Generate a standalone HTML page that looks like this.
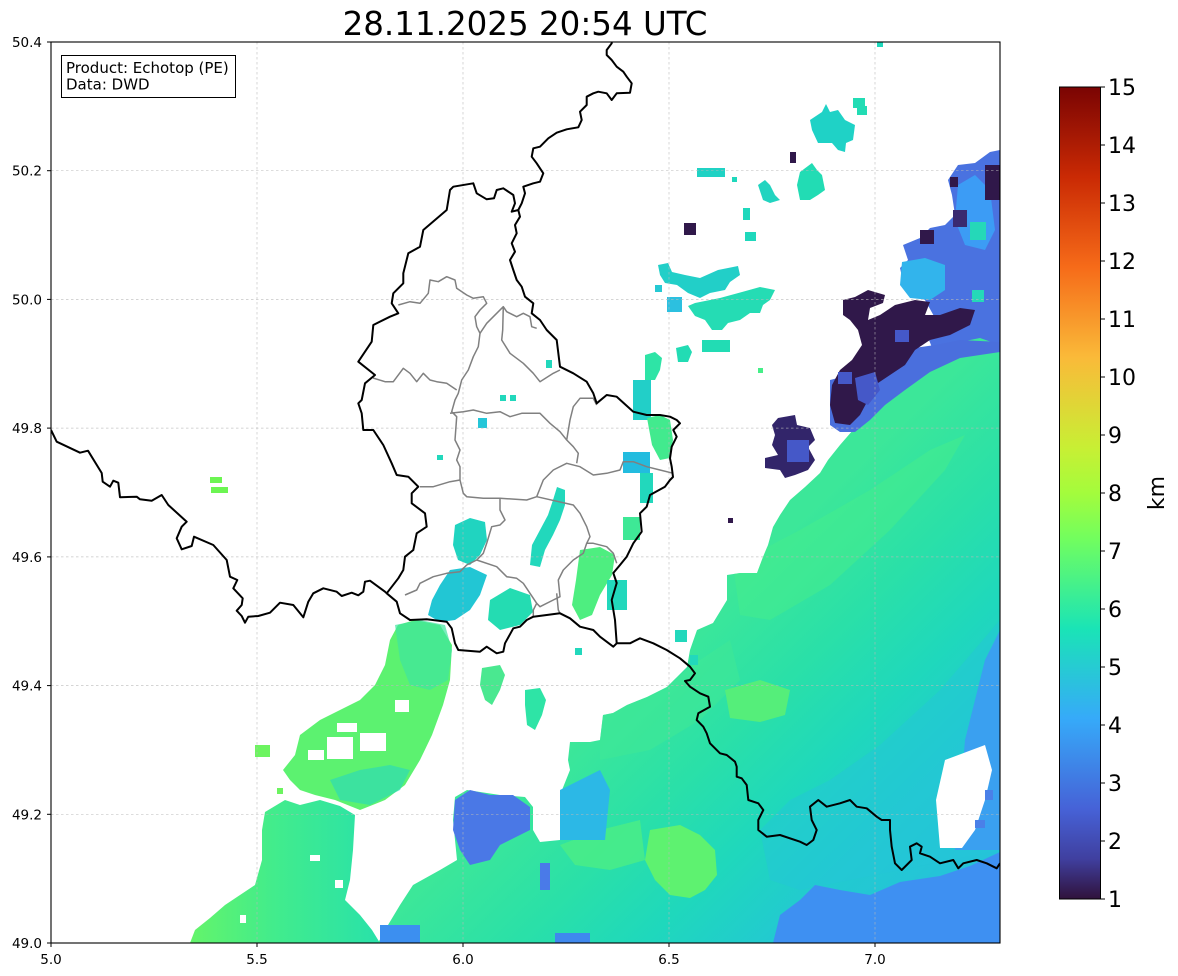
<!DOCTYPE html>
<html><head><meta charset="utf-8"><style>
html,body{margin:0;padding:0;background:#fff;}
svg{display:block;font-family:"DejaVu Sans","Liberation Sans",sans-serif;}
</style></head><body>
<svg width="1178" height="976" viewBox="0 0 1178 976" xmlns="http://www.w3.org/2000/svg">
<defs>
<clipPath id="pc"><rect x="51" y="42" width="949" height="901"/></clipPath>
<clipPath id="mc"><path d="M1000,327 L985,333 967,337 950,350 935,360 920,373 905,382 893,393 875,405 862,418 853,430 840,445 828,460 820,473 805,487 790,500 780,515 773,527 768,545 763,557 757,573 740,573 727,575 727,600 713,623 697,630 690,650 687,667 667,687 647,697 627,705 613,713 603,715 600,740 590,742 570,742 568,760 570,770 562,790 560,840 540,842 533,830 533,807 525,797 500,795 467,790 455,797 453,820 457,860 440,870 413,885 400,905 388,925 378,943 L1000,943 Z"/></clipPath>
<linearGradient id="cb" x1="0" y1="1" x2="0" y2="0">
<stop offset="0" stop-color="#30123b"/><stop offset="0.05" stop-color="#4040a0"/>
<stop offset="0.111" stop-color="#4662d7"/><stop offset="0.222" stop-color="#36aaf9"/>
<stop offset="0.333" stop-color="#1ae4b6"/><stop offset="0.444" stop-color="#72fe5e"/>
<stop offset="0.5" stop-color="#a4fc3c"/><stop offset="0.556" stop-color="#c8ef34"/>
<stop offset="0.667" stop-color="#faba39"/><stop offset="0.778" stop-color="#f66b19"/>
<stop offset="0.889" stop-color="#ca2a04"/><stop offset="1" stop-color="#7a0403"/>
</linearGradient>
<linearGradient id="mg" gradientUnits="userSpaceOnUse" x1="800" y1="520" x2="1045" y2="772">
<stop offset="0" stop-color="#3ce799"/><stop offset="0.3" stop-color="#2ae0a8"/>
<stop offset="0.55" stop-color="#1fd8bc"/><stop offset="0.8" stop-color="#22cad0"/>
<stop offset="1" stop-color="#24c4d8"/>
</linearGradient>
<linearGradient id="lbg" gradientUnits="userSpaceOnUse" x1="190" y1="0" x2="375" y2="0">
<stop offset="0" stop-color="#64f46a"/><stop offset="0.45" stop-color="#42ec8c"/><stop offset="1" stop-color="#2ae2a8"/>
</linearGradient>
</defs>

<text x="525" y="35" font-size="32.5" text-anchor="middle" fill="#000">28.11.2025 20:54 UTC</text>

<g clip-path="url(#pc)">
<!-- main SE region -->
<path fill="url(#mg)" d="M1000,327 L985,333 967,337 950,350 935,360 920,373 905,382 893,393 875,405 862,418 853,430 840,445 828,460 820,473 805,487 790,500 780,515 773,527 768,545 763,557 757,573 740,573 727,575 727,600 713,623 697,630 690,650 687,667 667,687 647,697 627,705 613,713 603,715 600,740 590,742 570,742 568,760 570,770 562,790 560,840 540,842 533,830 533,807 525,797 500,795 467,790 455,797 453,820 457,860 440,870 413,885 400,905 388,925 378,943 L1000,943 Z"/>
<g clip-path="url(#mc)">
<path fill="#45ec8c" opacity="0.55" d="M733,565 L800,530 870,490 930,450 965,435 945,470 890,530 830,585 770,620 740,615 Z"/>
<path fill="#3fe896" opacity="0.6" d="M600,715 L660,690 700,660 730,640 740,680 700,720 650,750 600,760 Z"/>
<path fill="#5ef270" d="M650,830 L680,825 700,835 715,850 717,875 705,890 690,898 670,895 655,880 645,860 Z"/>
<path fill="#55ee7a" d="M725,690 L760,680 790,690 785,715 760,722 730,718 Z"/>
<path fill="#4cee84" opacity="0.8" d="M560,845 L600,830 640,820 645,860 610,870 575,865 Z"/>
<path fill="#24c6d8" opacity="0.5" d="M1000,620 L940,690 880,745 830,780 790,800 760,830 770,880 800,890 1000,850 Z"/>
</g>
<!-- right blue strip -->
<path fill="#3aa0f0" d="M1000,630 L985,660 975,700 965,740 960,800 955,850 1000,850 Z"/>
<!-- bottom blue -->
<path fill="#3e90f2" d="M773,943 L780,915 800,900 815,885 840,890 870,895 900,882 940,876 970,866 1000,852 L1000,943 Z"/>
<rect x="380" y="925" width="40" height="18" fill="#3c8ff0"/>
<rect x="555" y="933" width="35" height="10" fill="#3f88ee"/>
<!-- white hole -->
<path fill="#fff" d="M945,760 L985,745 992,770 985,800 975,830 962,848 940,848 936,800 Z"/>
<rect x="985" y="790" width="8" height="10" fill="#4a80e8"/>
<rect x="975" y="820" width="10" height="8" fill="#4a80e8"/>
<rect x="958" y="785" width="6" height="6" fill="#fff"/>
<!-- cyan/blue in bottom band -->
<path fill="#2cb8e6" d="M560,790 L580,780 600,770 610,790 605,840 560,840 Z"/>
<path fill="#4a78e6" d="M455,800 L470,790 490,795 513,795 530,807 530,830 520,835 500,845 490,860 470,865 460,850 453,830 Z"/>
<rect x="540" y="863" width="10" height="27" fill="#4a7ae8"/>

<!-- top-right cluster -->
<path fill="#4a72e0" d="M948,180 L958,165 975,163 990,152 1000,150 1000,345 980,338 960,342 945,345 935,355 925,330 935,318 925,300 905,290 900,268 908,260 903,245 920,238 930,228 945,225 955,215 952,195 Z"/>
<path fill="#3c9cf5" d="M958,185 L975,175 990,190 995,230 985,250 965,245 955,220 Z"/>
<path fill="#32b4ec" d="M902,262 L925,258 945,265 945,290 930,300 910,298 900,285 Z"/>
<rect x="970" y="222" width="16" height="18" fill="#25d8b8"/>
<rect x="972" y="290" width="12" height="12" fill="#25d8b8"/>
<rect x="985" y="165" width="15" height="35" fill="#30184a"/>
<rect x="950" y="177" width="8" height="10" fill="#30184a"/>
<rect x="953" y="210" width="14" height="17" fill="#3a2a70"/>
<rect x="920" y="230" width="14" height="14" fill="#30184a"/>
<path fill="#4a6fdd" d="M830,380 L870,370 900,350 935,345 960,340 1000,342 1000,352 960,358 930,372 905,390 885,405 870,420 855,432 840,432 830,425 Z"/>
<path fill="#30184a" d="M843,300 L855,297 868,290 885,295 883,303 870,308 868,320 880,315 895,305 915,300 930,302 925,315 940,315 960,308 975,310 970,325 950,335 930,340 915,350 905,365 890,375 875,385 868,400 860,415 850,425 835,423 830,405 832,385 840,370 852,360 862,345 858,330 850,320 843,315 Z"/>
<path fill="#4558c8" d="M855,378 L875,372 880,390 868,405 858,400 Z"/>
<rect x="838" y="372" width="14" height="12" fill="#4558c8"/>
<rect x="895" y="330" width="14" height="12" fill="#4558c8"/>
<!-- dark blob -->
<path fill="#32256a" d="M778,418 L795,415 797,425 810,428 815,440 808,447 815,460 808,470 795,475 785,478 780,470 765,468 765,458 778,455 772,445 775,435 772,425 Z"/>
<rect x="787" y="440" width="22" height="22" fill="#4558c8"/>

<!-- lower-left blob -->
<path fill="url(#lbg)" d="M265,812 L285,800 300,805 320,800 340,806 355,815 353,850 350,880 345,900 360,915 372,930 380,943 190,943 195,930 210,918 225,905 240,895 255,885 262,860 262,830 Z"/>
<!-- upper-left blob -->
<path fill="#5cf270" d="M300,735 L320,720 340,710 360,700 375,685 385,665 390,640 398,625 415,620 440,625 452,645 450,680 443,705 432,735 420,760 405,785 385,800 360,810 335,800 315,795 300,790 290,780 283,770 295,755 Z"/>
<path fill="#3ee6a0" d="M395,625 L420,620 445,625 452,650 448,680 430,690 410,685 400,660 Z" opacity="0.7"/>
<path fill="#2fdcb4" d="M330,780 L360,770 390,765 410,770 400,790 370,805 340,800 Z" opacity="0.7"/>
<rect x="327" y="737" width="26" height="22" fill="#fff"/>
<rect x="360" y="733" width="26" height="18" fill="#fff"/>
<rect x="337" y="723" width="20" height="9" fill="#fff"/>
<rect x="308" y="750" width="16" height="10" fill="#fff"/>
<rect x="395" y="700" width="14" height="12" fill="#fff"/>
<rect x="255" y="745" width="15" height="12" fill="#6cf460"/>
<rect x="277" y="788" width="6" height="6" fill="#6cf460"/>
<rect x="310" y="855" width="10" height="6" fill="#fff"/>
<rect x="335" y="880" width="8" height="8" fill="#fff"/>
<rect x="240" y="915" width="6" height="8" fill="#fff"/>

<!-- small north blobs -->
<rect x="877" y="42" width="6" height="5" fill="#1fd8bc"/>
<path fill="#1fd2c6" d="M810,120 L822,112 826,104 830,112 838,110 845,120 855,125 853,140 846,143 845,152 838,150 832,143 818,143 812,130 Z"/>
<rect x="853" y="98" width="12" height="10" fill="#22dcb4"/>
<rect x="857" y="106" width="10" height="9" fill="#22dcb4"/>
<rect x="790" y="152" width="6" height="11" fill="#30184a"/>
<path fill="#22dcb4" d="M800,172 L812,163 817,170 822,175 825,190 818,195 810,200 800,200 797,185 Z"/>
<rect x="697" y="168" width="28" height="9" fill="#20d2c4"/>
<rect x="732" y="177" width="5" height="5" fill="#1fd8bc"/>
<path fill="#22d4c0" d="M758,185 L765,180 770,185 775,195 780,200 770,203 763,200 Z"/>
<rect x="743" y="208" width="7" height="12" fill="#1fd8bc"/>
<rect x="684" y="223" width="12" height="12" fill="#30184a"/>
<rect x="745" y="232" width="11" height="9" fill="#1fd8bc"/>
<path fill="#22cfc8" d="M658,265 L668,263 672,272 685,275 700,278 718,270 738,266 740,275 730,282 725,290 710,293 700,298 688,293 677,285 665,283 660,275 Z"/>
<rect x="655" y="285" width="7" height="7" fill="#25c9d3"/>
<rect x="667" y="297" width="15" height="15" fill="#2cc0e0"/>
<path fill="#25dcb4" d="M695,303 L720,298 742,292 760,287 775,290 770,300 763,305 760,313 750,313 740,320 728,323 722,330 712,330 705,320 695,316 688,306 Z"/>
<path fill="#22dcb4" d="M676,348 L688,345 692,352 688,362 678,362 Z"/>
<rect x="702" y="340" width="28" height="12" fill="#22dcb4"/>
<path fill="#2ee4a6" d="M645,355 L655,352 662,358 660,370 655,380 645,380 Z"/>
<rect x="633" y="380" width="18" height="40" fill="#22cfc8"/>
<rect x="758" y="368" width="5" height="5" fill="#45ef88"/>
<rect x="728" y="518" width="5" height="5" fill="#30184a"/>

<!-- Lux region blobs -->
<path fill="#42ea8e" d="M647,418 L660,415 670,420 673,440 670,458 660,460 652,445 Z"/>
<rect x="623" y="452" width="27" height="21" fill="#23bcdf"/>
<rect x="640" y="473" width="13" height="30" fill="#22d8bc"/>
<rect x="623" y="517" width="17" height="23" fill="#3ee896"/>
<path fill="#22d8bc" d="M557,487 L565,490 565,505 560,520 553,535 545,550 540,567 530,565 532,545 540,530 548,515 553,500 Z"/>
<path fill="#20d4c0" d="M455,525 L470,518 485,522 487,540 480,555 470,565 458,560 453,545 Z"/>
<path fill="#22c6d4" d="M450,570 L470,567 487,575 480,595 470,610 455,620 440,622 428,615 432,600 440,585 Z"/>
<path fill="#24dcb2" d="M490,600 L510,588 530,595 533,612 520,625 500,630 488,620 Z"/>
<path fill="#4eee80" d="M580,550 L600,547 615,555 612,575 600,595 592,615 580,620 572,605 576,580 Z"/>
<rect x="607" y="580" width="20" height="30" fill="#22d8bc"/>
<path fill="#4ae890" d="M482,668 L500,665 505,675 500,690 492,705 485,700 480,685 Z"/>
<path fill="#2ee4a6" d="M525,690 L540,688 546,700 542,715 535,730 527,725 525,705 Z"/>
<rect x="575" y="648" width="7" height="7" fill="#22d8bc"/>
<rect x="437" y="455" width="6" height="5" fill="#22d8bc"/>
<rect x="478" y="418" width="9" height="10" fill="#25c6d8"/>
<rect x="500" y="395" width="6" height="6" fill="#22d8bc"/>
<rect x="546" y="360" width="6" height="8" fill="#22d8bc"/>
<rect x="510" y="395" width="6" height="6" fill="#22d8bc"/>
<rect x="210" y="477" width="12" height="6" fill="#6cf552"/>
<rect x="211" y="487" width="17" height="6" fill="#6cf552"/>
<rect x="675" y="630" width="12" height="12" fill="#22d8bc"/>
<rect x="690" y="655" width="8" height="10" fill="#22d8bc"/>

<!-- gridlines -->
<g stroke="#b8b8b8" stroke-width="0.7" stroke-dasharray="2.5,2.5" fill="none" opacity="0.8">
<line x1="257" y1="42" x2="257" y2="943"/><line x1="463" y1="42" x2="463" y2="943"/>
<line x1="669" y1="42" x2="669" y2="943"/><line x1="875" y1="42" x2="875" y2="943"/>
<line x1="51" y1="170.7" x2="1000" y2="170.7"/><line x1="51" y1="299.4" x2="1000" y2="299.4"/>
<line x1="51" y1="428.1" x2="1000" y2="428.1"/><line x1="51" y1="556.9" x2="1000" y2="556.9"/>
<line x1="51" y1="685.6" x2="1000" y2="685.6"/><line x1="51" y1="814.3" x2="1000" y2="814.3"/>
</g>

<!-- gray canton borders -->
<g stroke="#808080" stroke-width="1.5" fill="none" stroke-linejoin="round">
<polyline points="398.3,305 410,301.7 420,303.3 428.3,293.3 430,280 438.3,281.7 446.7,276.7 455,280 456.7,288.3 466.7,295 473.3,298.3 483.3,296.7 486.7,303.3 480,310 475,316.7 476.7,326.7 480,333.3 478.3,346.7 473.3,356.7 468.3,370 461.7,380 458.3,393.3 455,400 451.7,411.7 456.7,416.7 455,440 460,450 456.7,460 460,466.7 460,480 463.3,493.3 466.7,496.7 483.3,498.3 500,498.3 526.7,500 536.7,496.7 543.3,480 553.3,470 566.7,463.3 580,466.7 593.3,475 606.7,473.3 620,470 623.3,461.7 633.3,461.7 646.7,466.7 660,470 673.3,473.3"/>
<polyline points="480,333.3 486.7,323.3 496.7,313.3 503.3,306.7 506.7,311.7 516.7,316.7 523.3,313.3 530,316.7 531.7,326.7 536.7,328.3"/>
<polyline points="503.3,306.7 502.7,330 501.7,340 510,353.3 523.3,363.3 533.3,373.3 540,381.7 553.3,373.3 560,370"/>
<polyline points="373,378 385,381.7 393.3,381.7 403.3,368.3 410,373.3 416.7,381.7 423.3,373.3 430,380 436.7,381.7 446.7,383.3 456.7,390"/>
<polyline points="450,413.3 463.3,411.7 473.3,410 486.7,413.3 500,411.7 510,416.7 521.7,413.3 540,413.3 550,423.3 560,431.7 566.7,440 573.3,446.7 578.3,453.3 576.7,463.3"/>
<polyline points="566.7,440 570,420 573.3,406.7 580,398.3 593.3,398.3 596.7,405"/>
<polyline points="460,480 450,481.7 433.3,486.7 420,486.7"/>
<polyline points="500,498.3 500,510 505,520 500,525 491.7,526.7 486.7,543.3 483.3,553.3 476.7,560 466.7,565 460,571.7 446.7,573.3 433.3,576.7 420,583.3 416.7,590 405,595"/>
<polyline points="476.7,560 496.7,566.7 506.7,576.7 516.7,578.3 523.3,583.3 530,593.3 536.7,603.3 540,606.7 553.3,600 560,596.7 558.3,580 563.3,570 573.3,560 583.3,553.3 586.7,543.3 590,536.7 586.7,526.7 580,513.3 573.3,505 536.7,496.7"/>
<polyline points="586.7,543.3 593.3,543.3 606.7,546.7 613.3,553.3 616.7,563.3"/>
<polyline points="556.7,593.3 558.3,610 560,613.3"/>
<polyline points="536.7,603.3 533.3,610 533.3,616.7"/>
</g>

<!-- black borders -->
<g stroke="#000" stroke-width="2" fill="none" stroke-linejoin="round">
<polyline points="51,430 56.7,441.7 80,452.7 88,450.7 101.7,473 102.7,481.7 110,486.7 113.3,480.7 118.3,482.7 120,497.3 136.7,496.7 140,499.3 151.7,500.7 161.7,495 168.3,505 186.7,521.7 181.7,526.7 176.7,538.3 181.7,549.3 191.7,546 194,536.7 213.3,545 226.7,560 230,576.7 237.3,580 233.3,588.3 242.7,598.3 241.7,605 236.7,610.7 241.7,616 245,622.7 248.3,616.7 258.3,616 270,612.7 280,602.7 293.3,605 303.3,617.3 308.3,601.7 313.3,593.3 323.3,588.3 336.7,591.7 341.7,596 351.7,592.7 358.3,595.3 363.3,591.7 365,581.7 370,580.7 385,591.7 386.7,593.3 396.7,601.7 400,613.3 410,620 426.7,619.3 446.7,621.7 451.7,628.3 455,643.3 458.3,650 480,651.7 486.7,646.7 496.7,653.3 503.3,651.7 505,643.3 513.3,628.3 520,626.7 526.7,620 533.3,616.7 546.7,615 560,613.3 570,618.3 580,626.7 593.3,630 600,636.7 613.3,646.7 616.7,643.3 630,643.3 640,638.3 653.3,643.3 666.7,650 680,658.3 690,666.7 695,673.3 690,680 685,681 690,686.7 700,693.3 708.3,696.7 710,706.7 698.3,713.3 696.7,720 703.3,726.7 706.7,733.3 710,743.3 720,753.3 726.7,755 735,761.7 736.7,766.7 736.7,776.7 741.7,778.3 746.7,785 748.3,800 758.3,803.3 763.3,810 758.3,820 758.3,830 766.7,836.7 780,835 800,841.7 806.7,845 813.3,840 816.7,830 811.7,820 810,806.7 818.3,800 826.7,806.7 840,803.3 850,800 856.7,806.7 866.7,808.3 876.7,816.7 881.7,820 890,820 890,830 891.7,846.7 895,863.3 901.7,870 911.7,860 910,846.7 916.7,843.3 921.7,846.7 920,853.3 930,856.7 940,863.3 953.3,860 958.3,868.3 963.3,863.3 976.7,860 986.7,863.3 996.7,868.3 1000,863.3"/>
<polyline points="386.7,593.3 398.3,578.3 403.3,570 405,556.7 413.3,550 416.7,533.3 426.7,526.7 425,513.3 411.7,503.3 411.7,493.3 418.3,486.7 408.3,476.7 396.7,475 391.7,463.3 383.3,445 373.3,430 363.3,430 361.7,413.3 358.3,403.3 361.7,400 365,383.3 375,375 358.3,361.7 371.7,341.7 373.3,325 390,316.7 398.3,313.3 391.7,303.3 393.3,293.3 403.3,283.3 403.3,273.3 408.3,253.3 420,246.7 423.3,230 446.7,210 450,190 453.3,186.7 473.3,183.3 476.7,193.3 486.7,199.3 494,198.3 496.7,190 503.3,188.3 513.3,195 515,203.3 511.7,211.7 518.3,210 520,216.7 515,225 516.7,233.3 511.7,243.3 515,251.7 510,260 513.3,270 516.7,280 521.7,286.7 525,296.7 533.3,303.3 531.7,313.3 540,320 546.7,330 556.7,340 560,366.7 573.3,373.3 586.7,381.7 593.3,393.3 596.7,403.3 606.7,395 616.7,396.7 633.3,411.7 646.7,415 660,415 670,416.7 676.7,420 680,423.3 673.3,430 676.7,436.7 671.7,446.7 670,458.3 671.7,466.7 673,477 670,480 665,486.7 650,495 646.7,506.7 640,513.3 641.7,531.7 633.3,543.3 626.7,556.7 620,565 613.3,573 616.7,583 611.7,600 615,620 616.7,643.3"/>
<polyline points="518.3,210 521.7,203.3 525,193.3 523.3,186.7 533.3,183.3 540,181.7 543.3,173.3 536.7,163.3 531.7,156.7 533.3,148.3 540,146.7 548.3,138.3 556.7,132.7 566.7,129.3 578.3,127.3 581.7,120 580,111.7 586.7,105 586.7,96.7 593.3,93.3 598.3,91.7 606.7,93.3 611.7,100 616.7,93.3 630,92.7 631.7,83.3 626.7,76.7 623.3,71.7 616.7,66.7 611.7,60 606.7,55 606.7,50 611.7,43.3 612,40"/>
</g>
</g>

<!-- axes frame -->
<rect x="51" y="42" width="949" height="901" fill="none" stroke="#000" stroke-width="1.1"/>

<!-- ticks -->
<g stroke="#000" stroke-width="1">
<line x1="47" y1="42" x2="51" y2="42"/><line x1="47" y1="170.7" x2="51" y2="170.7"/>
<line x1="47" y1="299.4" x2="51" y2="299.4"/><line x1="47" y1="428.1" x2="51" y2="428.1"/>
<line x1="47" y1="556.9" x2="51" y2="556.9"/><line x1="47" y1="685.6" x2="51" y2="685.6"/>
<line x1="47" y1="814.3" x2="51" y2="814.3"/><line x1="47" y1="943" x2="51" y2="943"/>
<line x1="51" y1="943" x2="51" y2="947"/><line x1="257" y1="943" x2="257" y2="947"/>
<line x1="463" y1="943" x2="463" y2="947"/><line x1="669" y1="943" x2="669" y2="947"/>
<line x1="875" y1="943" x2="875" y2="947"/>
</g>
<g font-size="13.5" fill="#000" text-anchor="end">
<text x="42" y="47">50.4</text><text x="42" y="175.7">50.2</text>
<text x="42" y="304.4">50.0</text><text x="42" y="433.1">49.8</text>
<text x="42" y="561.9">49.6</text><text x="42" y="690.6">49.4</text>
<text x="42" y="819.3">49.2</text><text x="42" y="948">49.0</text>
</g>
<g font-size="13.5" fill="#000" text-anchor="middle">
<text x="51" y="964">5.0</text><text x="257" y="964">5.5</text>
<text x="463" y="964">6.0</text><text x="669" y="964">6.5</text>
<text x="875" y="964">7.0</text>
</g>

<!-- info box -->
<rect x="61.5" y="55.5" width="174" height="42" fill="#fff" stroke="#000" stroke-width="1"/>
<text x="66" y="73" font-size="15" fill="#000">Product: Echotop (PE)</text>
<text x="66" y="89.5" font-size="15" fill="#000">Data: DWD</text>

<!-- colorbar -->
<rect x="1059.5" y="87" width="41" height="812" fill="url(#cb)" stroke="#000" stroke-width="1"/>
<g stroke="#000" stroke-width="1">
<line x1="1100.5" y1="87" x2="1105" y2="87"/><line x1="1100.5" y1="145" x2="1105" y2="145"/>
<line x1="1100.5" y1="203" x2="1105" y2="203"/><line x1="1100.5" y1="261" x2="1105" y2="261"/>
<line x1="1100.5" y1="319" x2="1105" y2="319"/><line x1="1100.5" y1="377" x2="1105" y2="377"/>
<line x1="1100.5" y1="435" x2="1105" y2="435"/><line x1="1100.5" y1="493" x2="1105" y2="493"/>
<line x1="1100.5" y1="551" x2="1105" y2="551"/><line x1="1100.5" y1="609" x2="1105" y2="609"/>
<line x1="1100.5" y1="667" x2="1105" y2="667"/><line x1="1100.5" y1="725" x2="1105" y2="725"/>
<line x1="1100.5" y1="783" x2="1105" y2="783"/><line x1="1100.5" y1="841" x2="1105" y2="841"/>
<line x1="1100.5" y1="899" x2="1105" y2="899"/>
</g>
<g font-size="22" fill="#000">
<text x="1108" y="95">15</text><text x="1108" y="153">14</text><text x="1108" y="211">13</text>
<text x="1108" y="269">12</text><text x="1108" y="327">11</text><text x="1108" y="385">10</text>
<text x="1108" y="443">9</text><text x="1108" y="501">8</text><text x="1108" y="559">7</text>
<text x="1108" y="617">6</text><text x="1108" y="675">5</text><text x="1108" y="733">4</text>
<text x="1108" y="791">3</text><text x="1108" y="849">2</text><text x="1108" y="907">1</text>
</g>
<text transform="translate(1164,493) rotate(-90)" font-size="22" text-anchor="middle" fill="#000">km</text>
</svg>
</body></html>
